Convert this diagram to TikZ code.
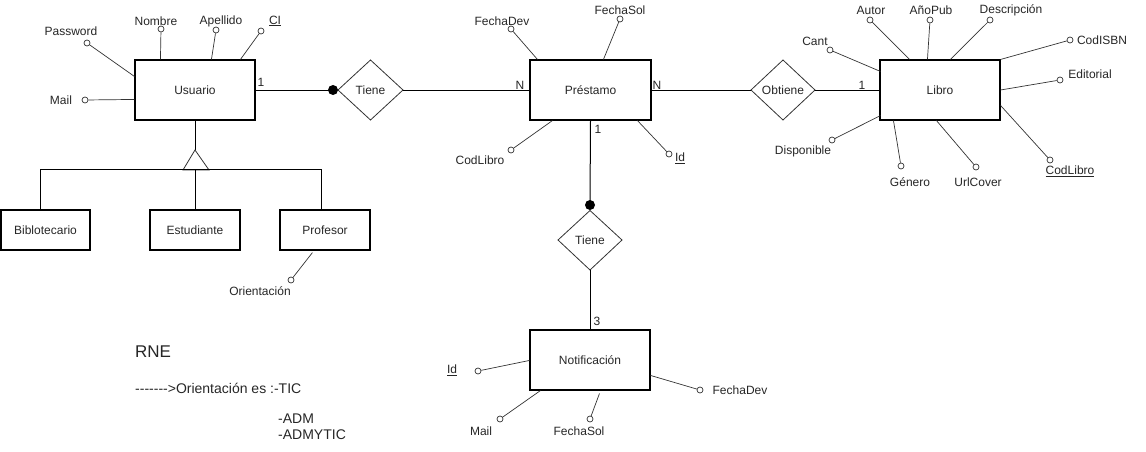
\documentclass[tikz,border=0pt]{standalone}
\usepackage{fontspec}
\setmainfont{Liberation Sans}
\usetikzlibrary{calc}
\begin{document}
\begin{tikzpicture}[x=1pt,y=-1pt,
  every node/.style={font=\fontsize{12}{14}\selectfont, text=black!85},
  entity/.style={draw, line width=1.1pt, minimum width=120pt, minimum height=60pt, inner sep=0pt},
  subent/.style={draw, line width=1.1pt, minimum width=90pt, minimum height=40pt, inner sep=0pt},
  rel/.style={draw=black!80, line width=0.8pt},
  attr/.style={circle, draw=black!80, line width=0.7pt, fill=white, inner sep=0pt, minimum size=6pt},
  lbl/.style={inner sep=1pt},
  dot/.style={circle, fill=black, inner sep=0pt, minimum size=10pt},
  aline/.style={draw=black!80, line width=0.7pt},
  link/.style={draw, line width=1pt},
  card/.style={inner sep=0pt},
  rne/.style={anchor=west, inner sep=0pt, font=\fontsize{14}{16}\selectfont}
]
\useasboundingbox (0,0) rectangle (1146,452);

% entities
\node[entity] (u) at (195,90) {Usuario};
\node[entity, minimum width=121pt] (p) at (590.5,90) {Préstamo};
\node[entity] (l) at (940,90) {Libro};
\node[entity] (n) at (590,360) {Notificación};
\node[subent, minimum width=89pt] (bib) at (45.5,230) {Biblotecario};
\node[subent] (est) at (195,230) {Estudiante};
\node[subent] (prof) at (325,230) {Profesor};

% relationships (diamonds)
\coordinate (t1) at (370.5,90);
\coordinate (t2) at (590,240);
\coordinate (ob) at (783,90);
\draw[rel] (338,90) coordinate (t1w) -- (370.5,60) -- (403,90) coordinate (t1e) -- (370.5,120) -- cycle;
\node at (t1) {Tiene};
\draw[rel] (558,240) -- (590,210.5) coordinate (t2n) -- (622,240) -- (590,270) coordinate (t2s) -- cycle;
\node at (t2) {Tiene};
\draw[rel] (751,90) coordinate (obw) -- (783,60) -- (815,90) coordinate (obe) -- (783,120) -- cycle;
\node at (ob) {Obtiene};

% dots
\node[dot] (d1) at (333,90) {};
\node[dot] (d2) at (590,205) {};

% links
\draw[link] (u.east) -- (d1.center);
\draw[link] (t1e) -- (p.west);
\draw[link] (p.south) -- (d2.center);
\draw[link] (t2s) -- (n.north);
\draw[link] (p.east) -- (obw);
\draw[link] (obe) -- (l.west);

% cardinalities
\node[card] (c1) at (261,82) {1};
\node[card] (c2) at (520,85) {N};
\node[card] (c3) at (657,85) {N};
\node[card] (c4) at (862,85) {1};
\node[card] (c5) at (598,129) {1};
\node[card] (c6) at (597,321) {3};

% generalization
\coordinate (gapex) at (195,150);
\coordinate (gbase) at (195,170);
\draw[link] (u.south) -- (gapex);
\draw[rel] (gapex) -- (183,170) -- (209,170) -- cycle;
\draw[link] ($(bib.north)+(-5,0)$) -- ($(bib.north)+(-5,-40)$) -- ($(prof.north)+(-4,-40)$) -- ($(prof.north)+(-4,0)$);
\draw[link] (gbase) -- (est.north);

% Usuario attributes
\node[attr] (a1) at (87,43) {};   \node[lbl] at (71,31) {Password};
\node[attr] (a2) at (161,29) {};  \node[lbl] at (156,21) {Nombre};
\node[attr] (a3) at (216,30) {};  \node[lbl] at (221,21) {Apellido};
\node[attr] (a4) at (261,31) {};  \node[lbl] at (275,21) {\underline{CI}};
\node[attr] (a5) at (85,100) {};  \node[lbl] at (61,100) {Mail};
\draw[aline] (a1) -- ($(u.north west)+(0,17)$);
\draw[aline] (a2) -- ($(u.north west)+(26,0)$);
\draw[aline] (a3) -- ($(u.north west)+(77,0)$);
\draw[aline] (a4) -- ($(u.north west)+(106,0)$);
\draw[aline] (a5) -- ($(u.north west)+(0,40)$);

% Préstamo attributes
\node[attr] (b1) at (511,29) {};  \node[lbl] at (502,21) {FechaDev};
\node[attr] (b2) at (620,19) {};  \node[lbl] at (620,10) {FechaSol};
\node[attr] (b3) at (511,150) {}; \node[lbl] at (480,160) {CodLibro};
\node[attr] (b4) at (669,154) {}; \node[lbl] at (680,158) {\underline{Id}};
\draw[aline] (b1) -- ($(p.north west)+(8,0)$);
\draw[aline] (b2) -- ($(p.north west)+(74,0)$);
\draw[aline] (b3) -- ($(p.south west)+(23,0)$);
\draw[aline] (b4) -- ($(p.south west)+(108,0)$);

% Libro attributes
\node[attr] (c1a) at (830,50) {};  \node[lbl] at (815,41) {Cant};
\node[attr] (c2a) at (870,20) {};  \node[lbl] at (871,10) {Autor};
\node[attr] (c3a) at (930,20) {};  \node[lbl] at (931,10) {AñoPub};
\node[attr] (c4a) at (990,20) {};  \node[lbl] at (1011,10) {Descripción};
\node[attr] (c5a) at (1070,40) {}; \node[lbl] at (1102,40) {CodISBN};
\node[attr] (c6a) at (1060,80) {}; \node[lbl] at (1090,74) {Editorial};
\node[attr] (c7a) at (1050,160) {};\node[lbl] at (1070,171) {\underline{CodLibro}};
\node[attr] (c8a) at (976,167) {}; \node[lbl] at (978,182) {UrlCover};
\node[attr] (c9a) at (901,166) {}; \node[lbl] at (910,182) {Género};
\node[attr] (c10a) at (832,140) {};\node[lbl] at (803,151) {Disponible};
\draw[aline] (c1a) -- ($(l.north west)+(1,12)$);
\draw[aline] (c2a) -- ($(l.north west)+(30,0)$);
\draw[aline] (c3a) -- ($(l.north west)+(48,0)$);
\draw[aline] (c4a) -- ($(l.north west)+(71,0)$);
\draw[aline] (c5a) -- (l.north east);
\draw[aline] (c6a) -- (l.east);
\draw[aline] (c7a) -- ($(l.north east)+(0,46)$);
\draw[aline] (c8a) -- ($(l.south west)+(57,0)$);
\draw[aline] (c9a) -- ($(l.south west)+(14,0)$);
\draw[aline] (c10a) -- ($(l.south west)+(1,-5)$);

% Profesor attribute
\node[attr] (o1) at (291,280) {}; \node[lbl] at (260,291) {Orientación};
\draw[aline] (o1) -- ($(prof.south west)+(33,2)$);

% Notificación attributes
\node[attr] (n1) at (478,371) {}; \node[lbl] at (452,370) {\underline{Id}};
\node[attr] (n2) at (500,419) {}; \node[lbl] at (481,431) {Mail};
\node[attr] (n3) at (590,419) {}; \node[lbl] at (579,431) {FechaSol};
\node[attr] (n4) at (700,390) {}; \node[lbl] at (740,390) {FechaDev};
\draw[aline] (n1) -- ($(n.north west)+(0,31)$);
\draw[aline] (n2) -- ($(n.south west)+(11,0)$);
\draw[aline] (n3) -- ($(n.south west)+(70,3)$);
\draw[aline] (n4) -- ($(n.north east)+(0,46)$);

% RNE notes
\node[rne, font=\fontsize{17}{19}\selectfont] (rne) at (135,352) {RNE};
\node[rne] (r1) at (135,388) {-{}-{}-{}-{}-{}-{}->Orientación es :-TIC};
\node[rne] (r2) at (278,419) {-ADM};
\node[rne] (r3) at (278,435) {-ADMYTIC};
\end{tikzpicture}
\end{document}
